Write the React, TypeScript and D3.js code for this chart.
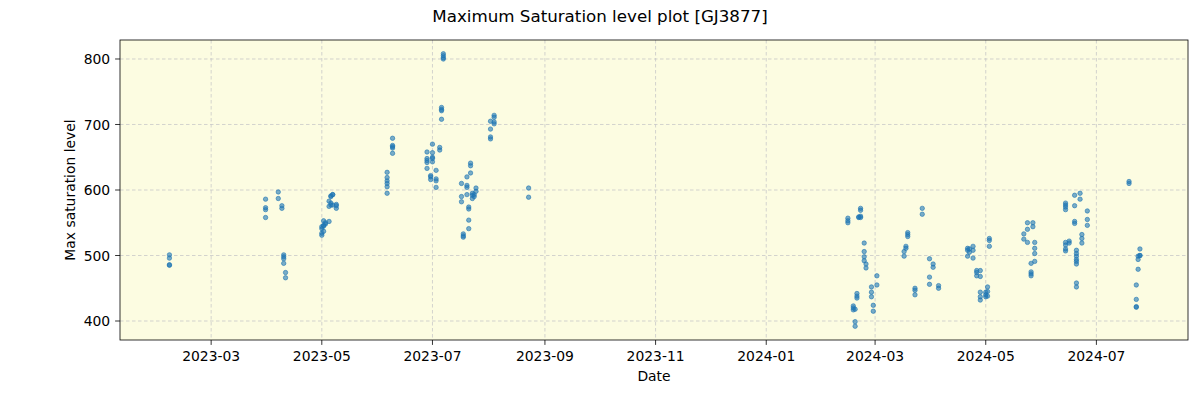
import * as d3 from "d3";

// observation nights and the max saturation levels read on each
const nightDates = [
  "2023-02-06", "2023-03-31", "2023-04-07", "2023-04-09", "2023-04-10", "2023-04-11",
  "2023-05-01", "2023-05-02", "2023-05-03", "2023-05-05", "2023-05-06", "2023-05-07", "2023-05-09",
  "2023-06-06", "2023-06-09", "2023-06-28", "2023-06-30", "2023-07-01", "2023-07-03",
  "2023-07-05", "2023-07-06", "2023-07-07", "2023-07-17", "2023-07-18", "2023-07-20",
  "2023-07-21", "2023-07-22", "2023-07-23", "2023-07-24", "2023-07-25", "2023-08-02",
  "2023-08-04", "2023-08-23",
  "2024-02-15", "2024-02-18", "2024-02-19", "2024-02-20", "2024-02-21", "2024-02-22",
  "2024-02-24", "2024-02-25", "2024-02-28", "2024-02-29", "2024-03-02", "2024-03-17",
  "2024-03-18", "2024-03-19", "2024-03-23", "2024-03-27", "2024-03-31", "2024-04-02",
  "2024-04-05", "2024-04-21", "2024-04-22", "2024-04-24", "2024-04-26", "2024-04-28",
  "2024-05-01", "2024-05-02", "2024-05-03", "2024-05-22", "2024-05-24", "2024-05-26",
  "2024-05-27", "2024-05-28", "2024-06-14", "2024-06-16", "2024-06-19", "2024-06-20",
  "2024-06-22", "2024-06-23", "2024-06-26", "2024-07-19", "2024-07-23", "2024-07-24",
  "2024-07-25",
];

const nightLevels: number[][] = [
  [501, 496, 485, 486], [586, 573, 570, 558], [597, 587], [576, 572], [501, 498, 495, 488], [474, 466],
  [531, 534, 544, 541], [553, 545, 537, 546], [548, 550], [552, 583, 575], [591, 590, 577, 580], [593, 593, 577], [578, 572, 576],
  [595, 605, 610, 614, 619, 627], [656, 666, 668, 664, 679], [658, 648, 645, 642, 633], [622, 620, 616], [657, 650, 648, 643, 670], [630, 617, 614, 604],
  [665, 661], [726, 723, 721, 708], [808, 805, 802, 800], [610, 590, 582], [533, 530, 528], [620, 607, 604, 593],
  [574, 571, 554, 541], [641, 637, 626], [595, 592, 587], [593, 590], [603, 598], [705, 693, 681, 678],
  [714, 711, 704, 701], [603, 589],
  [557, 553, 550], [423, 420, 417], [418, 399, 392], [442, 438, 435], [558, 559], [572, 569, 558, 560],
  [519, 506, 498, 492], [487, 481], [452, 444, 437], [424, 415], [469, 455], [506, 499],
  [514, 511], [535, 532, 529], [450, 447, 440], [572, 563], [495, 467, 456], [487, 482],
  [454, 450], [511, 508, 499], [510, 505], [514, 508, 496], [477, 474, 469], [477, 468, 444, 437, 432],
  [444, 437, 440], [452, 445, 438], [526, 523, 514], [533, 525], [550, 540, 520], [488, 475, 472, 469],
  [550, 544], [520, 511, 503, 491], [580, 577, 574, 570, 520, 516, 510, 507], [522, 519], [592, 576, 552, 549], [508, 503, 499, 494, 491, 487, 458, 452],
  [595, 586], [532, 526, 519], [568, 555, 546], [613, 610], [455, 433, 422, 421], [479, 494, 499],
  [510, 500, 500],
];

const xTickLabels = ["2023-03", "2023-05", "2023-07", "2023-09", "2023-11", "2024-01", "2024-03", "2024-05", "2024-07"];
const yTickValues = [400, 500, 600, 700, 800];

const W = 1200;
const H = 400;
const margin = { top: 40, right: 12, bottom: 60, left: 120 };
const font = "'DejaVu Sans', sans-serif";

export default function App() {
  const parse = d3.utcParse("%Y-%m-%d");
  const parseMonth = d3.utcParse("%Y-%m");

  const x = d3
    .scaleUtc()
    .domain([new Date(Date.UTC(2023, 0, 9, 18)), new Date(Date.UTC(2024, 7, 20, 12))])
    .range([margin.left, W - margin.right]);
  const y = d3.scaleLinear().domain([371, 829]).range([H - margin.bottom, margin.top]);

  const points = nightDates.flatMap((d, i) =>
    nightLevels[i].map((v) => ({ date: parse(d) as Date, value: v }))
  );
  const xTicks = xTickLabels.map((t) => ({ label: t, date: parseMonth(t) as Date }));

  const [x0, x1] = x.range();
  const [y0, y1] = y.range();

  return (
    <>
      <style>{`body{margin:0}`}</style>
      <svg width={W} height={H} style={{ display: "block", fontFamily: font }}>
        <rect width={W} height={H} fill="#fff" />
        <rect x={x0} y={y1} width={x1 - x0} height={y0 - y1} fill="#fcfce1" />

        {/* grid */}
        {xTicks.map((t) => (
          <line key={t.label} x1={x(t.date)} x2={x(t.date)} y1={y1} y2={y0}
            stroke="#c8c8c8" strokeWidth={0.8} strokeDasharray="3.5,2.5" />
        ))}
        {yTickValues.map((v) => (
          <line key={v} x1={x0} x2={x1} y1={y(v)} y2={y(v)}
            stroke="#c8c8c8" strokeWidth={0.8} strokeDasharray="3.5,2.5" />
        ))}

        {/* points */}
        {points.map((p, i) => (
          <circle key={i} cx={x(p.date)} cy={y(p.value)} r={2.2}
            fill="#1f77b4" fillOpacity={0.6} stroke="#1f77b4" strokeOpacity={0.6} strokeWidth={1} />
        ))}

        {/* frame */}
        <rect x={x0} y={y1} width={x1 - x0} height={y0 - y1} fill="none" stroke="#000" strokeWidth={0.8} />

        {/* x axis */}
        {xTicks.map((t) => (
          <g key={t.label} transform={`translate(${x(t.date)},${y0})`}>
            <line y2={4.9} stroke="#000" strokeWidth={0.8} />
            <text y={21} textAnchor="middle" fontSize={13.9} fill="#000">{t.label}</text>
          </g>
        ))}
        {/* y axis */}
        {yTickValues.map((v) => (
          <g key={v} transform={`translate(${x0},${y(v)})`}>
            <line x2={-4.9} stroke="#000" strokeWidth={0.8} />
            <text x={-9.8} dy="0.36em" textAnchor="end" fontSize={13.9} fill="#000">{v}</text>
          </g>
        ))}

        <text x={(x0 + x1) / 2} y={381} textAnchor="middle" fontSize={13.9} fill="#000">Date</text>
        <text transform={`translate(75,${(y0 + y1) / 2}) rotate(-90)`} textAnchor="middle" fontSize={13.9} fill="#000">
          Max saturation level
        </text>
        <text x={W / 2} y={22} textAnchor="middle" fontSize={16.7} fill="#000">
          Maximum Saturation level plot [GJ3877]
        </text>
      </svg>
    </>
  );
}
